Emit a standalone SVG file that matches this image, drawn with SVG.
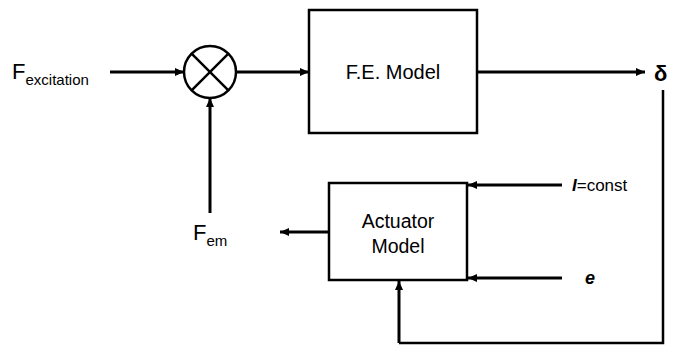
<svg xmlns="http://www.w3.org/2000/svg" width="680" height="346" viewBox="0 0 680 346">
<style>
.ln{stroke:#000;stroke-width:3;fill:none}
.bx{stroke:#000;stroke-width:2.5;fill:#fff}
.t{font-family:"Liberation Sans",Arial,sans-serif;fill:#000}
</style>
<defs>
<marker id="ah" markerUnits="userSpaceOnUse" markerWidth="10" markerHeight="10" refX="9" refY="5" orient="auto">
<path d="M0,1 L9,5 L0,9 Z" fill="#000"/>
</marker>
</defs>
<rect width="680" height="346" fill="#fff"/>
<g id="connectors">
<line class="ln" x1="110" y1="72" x2="184" y2="72" marker-end="url(#ah)"/>
<line class="ln" x1="210" y1="213" x2="210" y2="98" marker-end="url(#ah)"/>
<line class="ln" x1="236" y1="72" x2="309" y2="72" marker-end="url(#ah)"/>
<line class="ln" x1="477" y1="72" x2="645" y2="72" marker-end="url(#ah)"/>
<polyline class="ln" points="663,90 663,343 399,343" style="stroke-width:2.5"/>
<line class="ln" x1="399" y1="343" x2="399" y2="281" marker-end="url(#ah)"/>
<line class="ln" x1="329" y1="232" x2="280" y2="232" marker-end="url(#ah)"/>
<line class="ln" x1="562" y1="185" x2="468" y2="185" marker-end="url(#ah)"/>
<line class="ln" x1="562" y1="278" x2="468" y2="278" marker-end="url(#ah)"/>
</g>
<g id="sum">
<circle cx="210" cy="72" r="26" class="bx"/>
<line x1="191.6" y1="53.6" x2="228.4" y2="90.4" stroke="#000" stroke-width="2.5"/>
<line x1="228.4" y1="53.6" x2="191.6" y2="90.4" stroke="#000" stroke-width="2.5"/>
</g>
<g id="fe">
<rect x="309" y="10" width="168" height="123" class="bx"/>
<text class="t" x="393" y="79" font-size="20" text-anchor="middle">F.E. Model</text>
</g>
<g id="act">
<rect x="329" y="183" width="138" height="97" class="bx"/>
<text class="t" x="398" y="228" font-size="19.5" text-anchor="middle">Actuator</text>
<text class="t" x="398" y="253" font-size="19.5" text-anchor="middle">Model</text>
</g>
<g id="fexc">
<text class="t" x="12" y="79" font-size="22">F<tspan font-size="15" dy="6">excitation</tspan></text>
</g>
<g id="fem">
<text class="t" x="193" y="240" font-size="22">F<tspan font-size="15" dy="6">em</tspan></text>
</g>
<g id="delta">
<text class="t" x="654" y="81" font-size="22" font-weight="bold">δ</text>
</g>
<g id="iconst">
<text class="t" x="572" y="191" font-size="17"><tspan font-weight="bold" font-style="italic">I</tspan><tspan font-size="17">=const</tspan></text>
</g>
<g id="e">
<text class="t" x="585" y="284" font-size="18" font-weight="bold" font-style="italic">e</text>
</g>
</svg>
